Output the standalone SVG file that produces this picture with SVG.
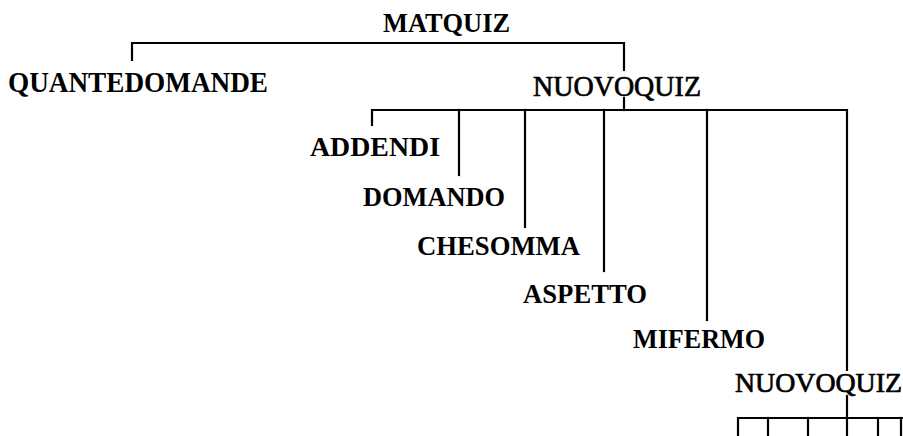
<svg xmlns="http://www.w3.org/2000/svg" width="903" height="436" viewBox="0 0 903 436">
<style>
.t{font-family:"Liberation Serif","Times New Roman",serif;font-size:27.5px;font-weight:bold;fill:#000}
.r{font-weight:normal;stroke:#000;stroke-width:0.7}
.c{fill:none;stroke:#000;stroke-width:2.2;stroke-linecap:square}
</style>
<rect width="903" height="436" fill="#fff"/>
<g id="connectors" class="c">
<path d="M132,60 V43 H624 V70"/>
<path d="M624,98 V110"/>
<path d="M372,125 V110 H847 V370"/>
<path d="M459,110 V175"/>
<path d="M525,110 V227"/>
<path d="M604,110 V271"/>
<path d="M707,110 V320"/>
<path d="M847,396 V418"/>
<path d="M738,436 V418 H903"/>
<path d="M768,418 V436"/>
<path d="M808,418 V436"/>
<path d="M847,418 V436"/>
<path d="M878,418 V436"/>
<path d="M901,418 V436"/>
</g>
<g id="matquiz"><text class="t" x="383" y="32" textLength="127" lengthAdjust="spacingAndGlyphs">MATQUIZ</text></g>
<g id="quantedomande"><text class="t" x="8" y="92" style="font-size:30px" textLength="260" lengthAdjust="spacingAndGlyphs">QUANTEDOMANDE</text></g>
<g id="nuovoquiz1"><text class="t r" x="533" y="96" style="font-size:28.5px" textLength="168" lengthAdjust="spacingAndGlyphs">NUOVOQUIZ</text></g>
<g id="addendi"><text class="t" x="310" y="156" textLength="130" lengthAdjust="spacingAndGlyphs">ADDENDI</text></g>
<g id="domando"><text class="t" x="363" y="206" textLength="142" lengthAdjust="spacingAndGlyphs">DOMANDO</text></g>
<g id="chesomma"><text class="t" x="417" y="255" textLength="163" lengthAdjust="spacingAndGlyphs">CHESOMMA</text></g>
<g id="aspetto"><text class="t" x="523" y="303" textLength="124" lengthAdjust="spacingAndGlyphs">ASPETTO</text></g>
<g id="mifermo"><text class="t" x="633" y="348" textLength="132" lengthAdjust="spacingAndGlyphs">MIFERMO</text></g>
<g id="nuovoquiz2"><text class="t r" x="735" y="392" style="font-size:27.5px" textLength="167" lengthAdjust="spacingAndGlyphs">NUOVOQUIZ</text></g>
</svg>
